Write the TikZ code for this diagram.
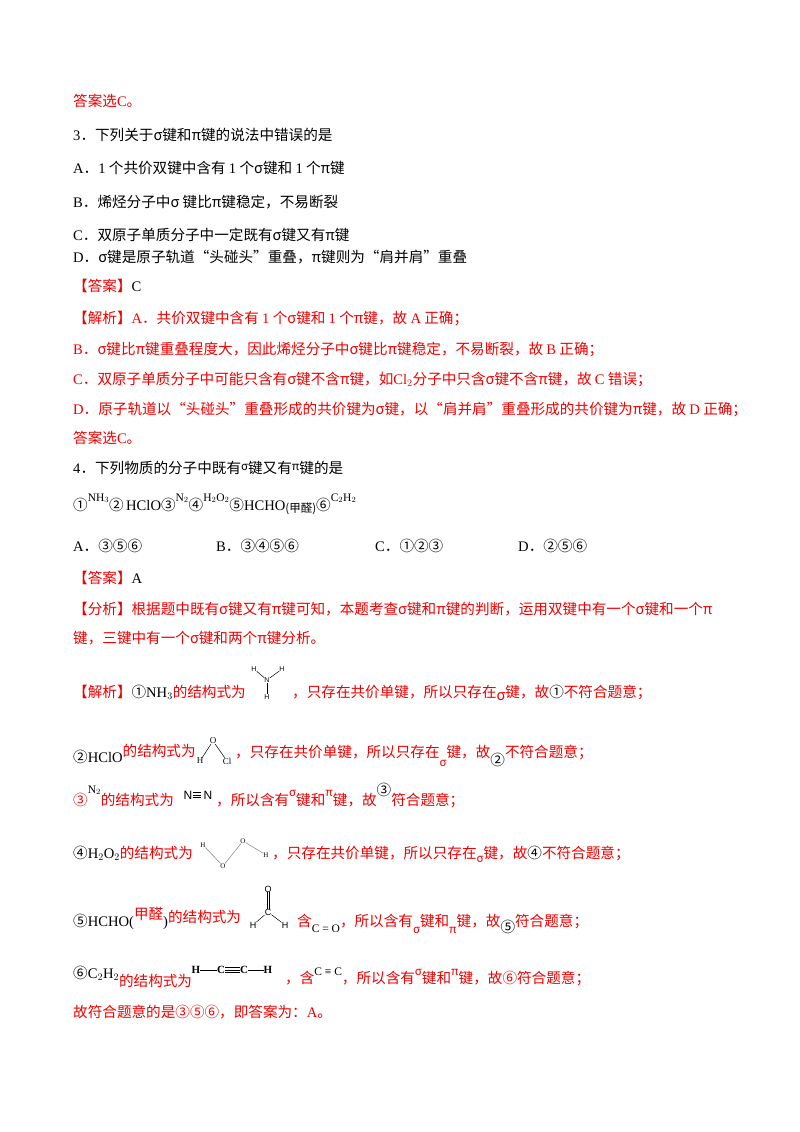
\documentclass[tikz,border=0pt]{standalone}
\usepackage{fontspec}
\setmainfont{Noto Sans CJK SC}
\newfontfamily\lat{Liberation Serif}
\newfontfamily\sans{Liberation Sans}
\newcommand\smf{\fontsize{11.5}{12}\selectfont}
\definecolor{ans}{RGB}{240,0,0}
\begin{document}
\begin{tikzpicture}[x=1pt,y=-1pt,
  t/.style={anchor=base west,inner sep=0pt,font=\fontsize{14.6}{15}\selectfont},
  r/.style={t,text=ans},
  sm/.style={inner sep=0pt,font=\sans\fontsize{7}{8}\selectfont},
  bd/.style={line width=0.5pt}]
\useasboundingbox (0,0) rectangle (800,1132);
\node[r] (l1) at (73,106) {答案选{\lat C}。};
\node[t] (l2) at (73,140) {{\lat 3}．下列关于σ键和π键的说法中错误的是};
\node[t] (l3) at (73,173) {{\lat A}．{\lat 1} 个共价双键中含有 {\lat 1} 个σ键和 {\lat 1} 个π键};
\node[t] (l4) at (73,207) {{\lat B}．烯烃分子中σ 键比π键稳定，不易断裂};
\node[t] (l5) at (73,240) {{\lat C}．双原子单质分子中一定既有σ键又有π键};
\node[t] (l6) at (73,262) {{\lat D}．σ键是原子轨道“头碰头”重叠，π键则为“肩并肩”重叠};
\node[t] (l7) at (73,291) {\textcolor{ans}{【答案】}{\lat C}};
\node[r] (l8) at (73,323) {【解析】{\lat A}．共价双键中含有 {\lat 1} 个σ键和 {\lat 1} 个π键，故 {\lat A} 正确；};
\node[r] (l9) at (73,354) {{\lat B}．σ键比π键重叠程度大，因此烯烃分子中σ键比π键稳定，不易断裂，故 {\lat B} 正确；};
\node[r] (l10) at (73,384) {{\lat C}．双原子单质分子中可能只含有σ键不含π键，如{\lat Cl$_2$}分子中只含σ键不含π键，故 {\lat C} 错误；};
\node[r] (l11) at (73,414) {{\lat D}．原子轨道以“头碰头”重叠形成的共价键为σ键，以“肩并肩”重叠形成的共价键为π键，故 {\lat D} 正确；};
\node[r] (l12) at (73,443) {答案选{\lat C}。};
\node[t] (l13) at (73,473) {{\lat 4}．下列物质的分子中既有\raisebox{3pt}{\smf σ}键又有\raisebox{3pt}{\smf π}键的是};
\node[t] (l14) at (73,510) {①\raisebox{9pt}{\lat\smf NH$_3$}②\,{\lat HClO}③\raisebox{9pt}{\lat\smf N$_2$}④\raisebox{9pt}{\lat\smf H$_2$O$_2$}⑤{\lat HCHO}\raisebox{-2pt}{\smf(甲醛)}⑥\raisebox{9pt}{\lat\smf C$_2$H$_2$}};
\node[t] (l15) at (73,551) {{\lat A}．③⑤⑥};
\node[t] (l15b) at (216,551) {{\lat B}．③④⑤⑥};
\node[t] (l15c) at (375,551) {{\lat C}．①②③};
\node[t] (l15d) at (518,551) {{\lat D}．②⑤⑥};
\node[t] (l16) at (73,583) {\textcolor{ans}{【答案】}{\lat A}};
\node[r] (l17) at (73,614) {【分析】根据题中既有σ键又有π键可知，本题考查σ键和π键的判断，运用双键中有一个σ键和一个π};
\node[r] (l18) at (73,643) {键，三键中有一个σ键和两个π键分析。};
\node[r] (l19) at (73,697) {【解析】\textcolor{black}{①{\lat NH$_3$}}的结构式为};
\node[r] (l19b) at (292,697) {，只存在共价单键，所以只存在\raisebox{-3pt}{σ}键，故\textcolor{black}{①}不符合题意；};
% NH3
\node[sm] (n1) at (267,680) {N};
\node[sm] (h1) at (254,669) {H};
\node[sm] (h2) at (282,669) {H};
\node[sm] (h3) at (267,697) {H};
\draw[bd] (n1) -- (h1); \draw[bd] (n1) -- (h2); \draw[bd] (n1) -- (h3);
\node[t] (l20) at (73,762) {\textcolor{black}{②{\lat HClO}}\textcolor{ans}{\raisebox{6pt}{的结构式为}}};
\node[sm,font=\lat\fontsize{9}{9}\selectfont] (o1) at (213,741) {O};
\node[sm,font=\lat\fontsize{9}{9}\selectfont] (hh) at (200,761) {H};
\node[sm,font=\lat\fontsize{9}{9}\selectfont] (cl) at (227,761) {Cl};
\draw[bd] (hh) -- (o1) -- (cl);
\node[r] (l20b) at (235,757) {，只存在共价单键，所以只存在\raisebox{-9pt}{\smf σ}键，故\raisebox{-8pt}{\textcolor{black}{②}}不符合题意；};
\node[r] (l21) at (73,805) {③\raisebox{12pt}{\textcolor{black}{\lat\smf N$_2$}}的结构式为};
\node[inner sep=0pt,font=\sans\fontsize{12}{12}\selectfont] (na) at (188,795) {N};
\node[inner sep=0pt,font=\sans\fontsize{12}{12}\selectfont] (nb) at (208,795) {N};
\draw[bd] (na.east) ++(0,-2.5) -- ++(8,0) (na.east) -- ++(8,0) (na.east) ++(0,2.5) -- ++(8,0);
\node[r] (l21b) at (216,805) {，所以含有\raisebox{9pt}{\smf σ}键和\raisebox{9pt}{\smf π}键，故\raisebox{10pt}{\textcolor{black}{③}}符合题意；};
\node[t] (l22) at (73,858) {④{\lat H$_2$O$_2$}\textcolor{ans}{的结构式为}};
\node[sm,font=\lat\fontsize{7}{7}\selectfont] (p1) at (203,845) {H};
\node[sm,font=\lat\fontsize{7}{7}\selectfont] (p2) at (223,866) {O};
\node[sm,font=\lat\fontsize{7}{7}\selectfont] (p3) at (243,841) {O};
\node[sm,font=\lat\fontsize{7}{7}\selectfont] (p4) at (266,855) {H};
\draw[bd,gray] (p1) -- (p2) -- (p3) -- (p4);
\node[r] (l22b) at (272,858) {，只存在共价单键，所以只存在\raisebox{-4pt}{\smf σ}键，故\textcolor{black}{④}不符合题意；};
\node[t] (l23) at (73,926) {⑤{\lat HCHO(}\raisebox{7pt}{\textcolor{ans}{甲醛}}{\lat )}\textcolor{ans}{\raisebox{4pt}{的结构式为}}};
\node[sm,font=\sans\fontsize{9}{9}\selectfont] (fo) at (268,889) {O};
\node[sm,font=\sans\fontsize{9}{9}\selectfont] (fc) at (268,912) {C};
\node[sm,font=\sans\fontsize{9}{9}\selectfont] (fh1) at (253,925) {H};
\node[sm,font=\sans\fontsize{9}{9}\selectfont] (fh2) at (285,925) {H};
\draw[bd] ([xshift=-1.2pt]fo.south) -- ([xshift=-1.2pt]fc.north) ([xshift=1.2pt]fo.south) -- ([xshift=1.2pt]fc.north);
\draw[bd] (fc) -- (fh1); \draw[bd] (fc) -- (fh2);
\node[r] (l23b) at (297,926) {含\raisebox{-6pt}{\textcolor{black}{\lat\smf C = O}}，所以含有\raisebox{-7pt}{\smf σ}键和\raisebox{-7pt}{\smf π}键，故\raisebox{-6pt}{\textcolor{black}{⑤}}符合题意；};
\node[t] (l24) at (73,978) {⑥{\lat C$_2$H$_2$}\raisebox{-8pt}{\textcolor{ans}{的结构式为}}};
\node[inner sep=0pt,font=\lat\bfseries\fontsize{11}{11}\selectfont] (a1) at (196,970) {H};
\node[inner sep=0pt,font=\lat\bfseries\fontsize{11}{11}\selectfont] (a2) at (221,970) {C};
\node[inner sep=0pt,font=\lat\bfseries\fontsize{11}{11}\selectfont] (a3) at (244,970) {C};
\node[inner sep=0pt,font=\lat\bfseries\fontsize{11}{11}\selectfont] (a4) at (268,970) {H};
\draw[line width=1pt] (a1) -- (a2) (a3) -- (a4);
\draw[line width=0.8pt] ([yshift=-2.3pt]a2.east) -- ([yshift=-2.3pt]a3.west) (a2.east) -- (a3.west) ([yshift=2.3pt]a2.east) -- ([yshift=2.3pt]a3.west);
\node[r] (l24b) at (285,983) {，含\raisebox{8pt}{\textcolor{black}{\lat\smf C ≡ C}}，所以含有\raisebox{8pt}{\smf σ}键和\raisebox{8pt}{\smf π}键，故⑥符合题意；};
\node[r] (l25) at (73,1017) {故符合题意的是③⑤⑥，即答案为：{\lat A}。};
\end{tikzpicture}
\end{document}
